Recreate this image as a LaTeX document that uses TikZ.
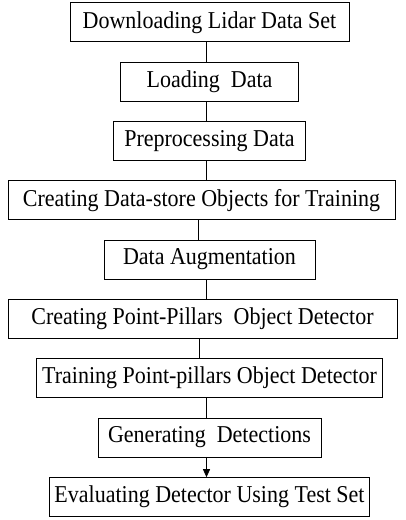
\documentclass[tikz,border=0pt]{standalone}
\usepackage{fontspec}
\setmainfont{Liberation Serif}
\usepackage{graphicx}
\usepackage{tikz}
\usetikzlibrary{positioning,arrows.meta}
\newcommand{\lbl}[1]{\scalebox{1}[1.1]{#1}}

\begin{document}
\begin{tikzpicture}[node distance=20.3pt,
      every node/.style={align=center},
      stage/.style={draw, line width=0.8pt, minimum height=39pt, inner sep=0pt,
        outer sep=0pt, font=\fontsize{22}{26}\selectfont},
      link/.style={line width=0.8pt}]
    \useasboundingbox (0,0) rectangle (405pt,-520pt);
    \node[stage,minimum width=279pt] (s1) at (209.5pt,-22.3pt) {\lbl{Downloading Lidar Data Set}};
    \node[stage,minimum width=178pt,below=of s1] (s2) {\lbl{Loading\ \ Data}};
    \node[stage,minimum width=192pt,below=of s2] (s3) {\lbl{Preprocessing Data}};
    \node[stage,minimum width=387pt,below=of s3,xshift=-8pt] (s4) {\lbl{Creating Data-store Objects for Training}};
    \node[stage,minimum width=211pt,below=of s4,xshift=8pt] (s5) {\lbl{Data Augmentation}};
    \node[stage,minimum width=389pt,below=of s5,xshift=-7pt] (s6) {\lbl{Creating Point-Pillars\ \ Object Detector}};
    \node[stage,minimum width=346pt,below=of s6,xshift=7pt] (s7) {\lbl{Training Point-pillars Object Detector}};
    \node[stage,minimum width=223pt,below=of s7] (s8) {\lbl{Generating\ \ Detections}};
    \node[stage,minimum width=320pt,below=of s8] (s9) {\lbl{Evaluating Detector Using Test Set}};
    \foreach \a/\b in {s1/s2,s2/s3,s3/s4,s4/s5,s5/s6,s6/s7,s7/s8}
      \draw[link] ([xshift=-3pt]\a.south) -- ([xshift=-3pt]\a.south |- \b.north);
    \draw[link,-{Triangle[length=8pt,width=7pt]}] ([xshift=-3pt]s8.south) -- ([xshift=-3pt]s8.south |- s9.north);
  \end{tikzpicture}
\end{document}
